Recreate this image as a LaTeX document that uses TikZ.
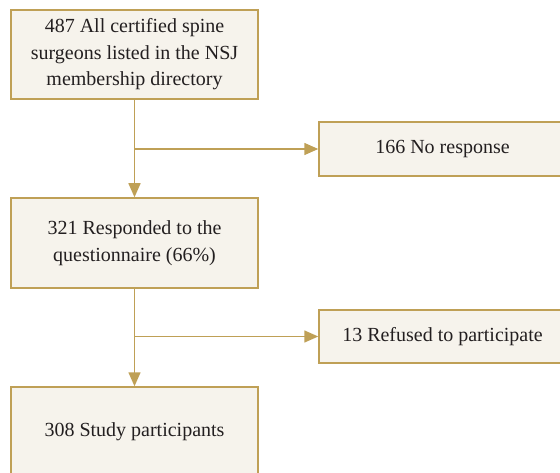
\documentclass[tikz,border=0pt]{standalone}
\usepackage{fontspec}
\setmainfont{Liberation Serif}
\usetikzlibrary{arrows.meta, positioning}
\definecolor{flowgold}{RGB}{191, 160, 86}
\definecolor{flowfill}{RGB}{246, 243, 236}
\definecolor{flowtext}{RGB}{35, 31, 32}

\begin{document}
\begin{tikzpicture}[x=1pt, y=-1pt,
    every node/.style={font=\fontsize{20}{26.5}\selectfont, text=flowtext},
    box/.style={draw=flowgold, fill=flowfill, line width=1.5pt,
      minimum width=247pt, align=center, inner sep=0pt},
    link/.style={flowgold, line width=1.5pt},
    arr/.style={link, -{Triangle[width=12pt, length=14pt]}}]
  \useasboundingbox (0,0) rectangle (560,473);

  % main column
  \node[box, minimum height=89pt] (total) at (134.5,54.5)
    {487 All certified spine\\surgeons listed in the NSJ\\membership directory};
  \node[box, minimum height=90pt] (responded) at (134.5,243)
    {321 Responded to the\\questionnaire (66\%)};
  \node[box, minimum height=90pt] (study) at (134.5,432)
    {308 Study participants};

  % exclusions
  \node[box, minimum height=54pt] (noresp) at (442.5,149)
    {166 No response};
  \node[box, minimum height=53pt] (refused) at (442.5,336.5)
    {13 Refused to participate};

  % connectors
  \coordinate (split1) at (total.south |- noresp.west);
  \coordinate (split2) at (responded.south |- refused.west);
  \draw[arr] (total) -- (responded);
  \draw[arr] (responded) -- (study);
  \draw[arr] (split1) -- (noresp);
  \draw[arr] (split2) -- (refused);
\end{tikzpicture}
\end{document}
